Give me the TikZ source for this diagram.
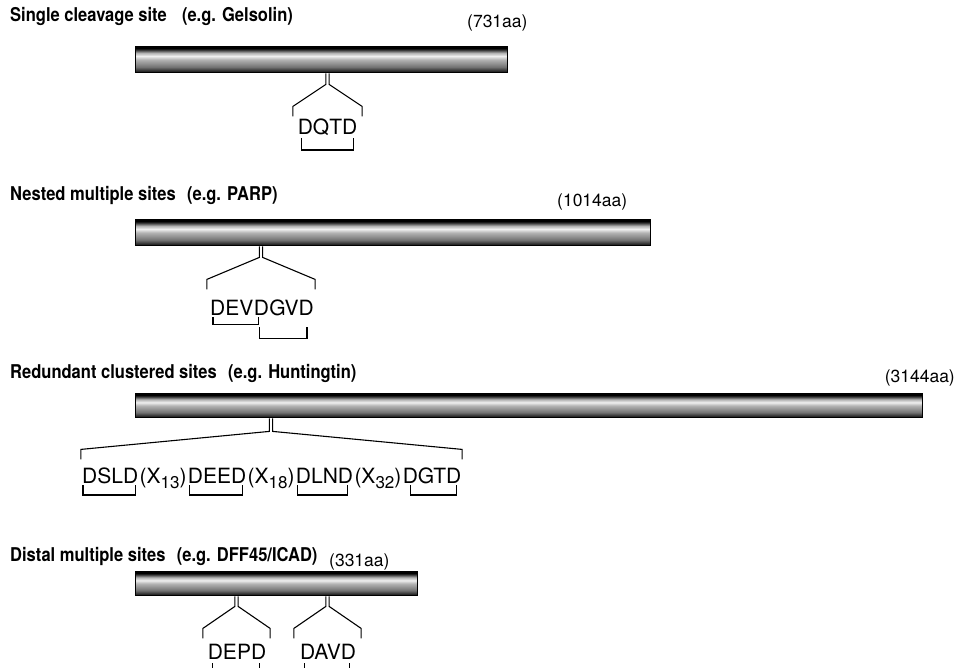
\documentclass[tikz,border=0pt]{standalone}
\usepackage{fontspec}
\setmainfont{TeX Gyre Heros}
\newfontfamily\headfont[FakeStretch=0.87]{TeX Gyre Heros}
\usetikzlibrary{calc,positioning}
\pgfdeclareverticalshading{rodshade}{100bp}{color(0bp)=(black); color(25bp)=(black); color(28bp)=(black!85); color(36bp)=(black!55); color(50bp)=(black!30); color(57bp)=(black!6); color(63bp)=(black!30); color(69bp)=(black!80); color(72bp)=(black); color(100bp)=(black)}

\begin{document}
\begin{tikzpicture}[x=1pt,y=-1pt,
  rod/.style={draw,line width=1.4pt,shading=rodshade,inner sep=0pt,anchor=north west},
  arm/.style={line width=1.1pt},
  heading/.style={anchor=base west,inner sep=0pt,font=\headfont\fontsize{19}{21}\selectfont\bfseries},
  length/.style={anchor=base west,inner sep=0pt,font=\fontsize{17.5}{20}\selectfont},
  motif/.style={anchor=base west,inner sep=0pt,font=\fontsize{21}{24}\selectfont}]
\useasboundingbox (0,0) rectangle (959,668);

% Headings and protein lengths.
\node[heading] (headA) at (10,22) {Single cleavage site\hspace{0.8em}(e.g. Gelsolin)};
\node[heading] (headB) at (10,201) {Nested multiple sites\hspace{0.6em}(e.g. PARP)};
\node[heading] (headC) at (10,378) {Redundant clustered sites\hspace{0.6em}(e.g. Huntingtin)};
\node[heading] (headD) at (10,561) {Distal multiple sites\hspace{0.6em}(e.g. DFF45/ICAD)};

\node[length] (lenA) at (467,28) {(731aa)};
\node[length] (lenB) at (557,207) {(1014aa)};
\node[length,anchor=base east] (lenC) at (955,383) {(3144aa)};
\node[length] (lenD) at (329,566) {(331aa)};

% Draw the proteins.
\node[rod,minimum width=372pt,minimum height=26pt] (rodA) at (135,46) {};
\node[rod,minimum width=515pt,minimum height=26pt] (rodB) at (135,219) {};
\node[rod,minimum width=787pt,minimum height=24pt] (rodC) at (135,393) {};
\node[rod,minimum width=282pt,minimum height=24pt] (rodD) at (135,571) {};

% Cleavage points on the proteins.
\coordinate (cutA) at ($(rodA.south west)+(192.5,0)$);
\coordinate (cutB) at ($(rodB.south west)+(126,0)$);
\coordinate (cutC) at ($(rodC.south west)+(136,0)$);
\coordinate (cutD) at ($(rodD.south west)+(101.5,0)$);
\coordinate (cutE) at ($(rodD.south west)+(192.5,0)$);

% Draw the forks below the cleavage points.
\draw[arm] ([xshift=-1.6pt]cutA) -- ++(0,11) -- ++(-33,22) -- ++(0,10);
\draw[arm] ([xshift=1.6pt]cutA) -- ++(0,11) -- ++(33,22) -- ++(0,10);

\draw[arm] ([xshift=-1.6pt]cutB) -- ++(0,11) -- ++(-52.5,22) -- ++(0,10);
\draw[arm] ([xshift=1.6pt]cutB) -- ++(0,11) -- ++(52.5,22) -- ++(0,10);

\draw[arm] ([xshift=-1.6pt]cutC) -- ++(0,13) -- ++(-188.5,18) -- ++(0,10);
\draw[arm] ([xshift=1.6pt]cutC) -- ++(0,13) -- ++(189.5,18) -- ++(0,10);

\draw[arm] ([xshift=-1.6pt]cutD) -- ++(0,10) -- ++(-32,22) -- ++(0,10);
\draw[arm] ([xshift=1.6pt]cutD) -- ++(0,10) -- ++(32,22) -- ++(0,10);

\draw[arm] ([xshift=-1.6pt]cutE) -- ++(0,10) -- ++(-32,22) -- ++(0,10);
\draw[arm] ([xshift=1.6pt]cutE) -- ++(0,10) -- ++(32,22) -- ++(0,10);

% Sequence motifs.
\node[motif,anchor=base] (dqtd) at (327.5,135) {DQTD};

\node[motif] (dev) at (210,315.5) {DEV};
\node[motif] (dd) at (dev.base east) {D};
\node[motif] (gvd) at (dd.base east) {GVD};

\node[motif] (dsld) at (82,483) {DSLD};
\node[motif] (xa) at (dsld.base east) {\kern1pt(X\raisebox{-0.28em}{\fontsize{17}{18}\selectfont 13})\kern1pt};
\node[motif] (deed) at (xa.base east) {DEED};
\node[motif] (xb) at (deed.base east) {\kern1pt(X\raisebox{-0.28em}{\fontsize{17}{18}\selectfont 18})\kern1pt};
\node[motif] (dlnd) at (xb.base east) {DLND};
\node[motif] (xc) at (dlnd.base east) {\kern1pt(X\raisebox{-0.28em}{\fontsize{17}{18}\selectfont 32})\kern1pt};
\node[motif] (dgtd) at (xc.base east) {DGTD};

\node[motif,anchor=base] (depd) at (237,659) {DEPD};
\node[motif,anchor=base] (davd) at (328,659) {DAVD};

% Brackets under the motifs.
\draw[arm] ($(dqtd.base west)+(4,3)$) -- ++(0,12) -| ($(dqtd.base east)+(-4,3)$);

\draw[arm] ($(dev.base west)+(3,2)$) -- ++(0,7) -| ($(dd.base)+(-3,2)$);
\draw[arm] ($(dd.base)+(-2,12)$) -- ++(0,11) -| ($(gvd.base east)+(-7,12)$);

\draw[arm] ($(dsld.base west)+(1,2)$) -- ++(0,10) -| ($(dsld.base east)+(-3,2)$);
\draw[arm] ($(deed.base west)+(2,2)$) -- ++(0,10) -| ($(deed.base east)+(-4,2)$);
\draw[arm] ($(dlnd.base west)+(2,2)$) -- ++(0,10) -| ($(dlnd.base east)+(-6,2)$);
\draw[arm] ($(dgtd.base west)+(8,2)$) -- ++(0,10) -| ($(dgtd.base east)+(-5,2)$);

\draw[arm] ($(depd.base west)+(5,4)$) -- ++(0,12) -| ($(depd.base east)+(-7,4)$);
\draw[arm] ($(davd.base west)+(5,4)$) -- ++(0,12) -| ($(davd.base east)+(-7,4)$);

\end{tikzpicture}
\end{document}
